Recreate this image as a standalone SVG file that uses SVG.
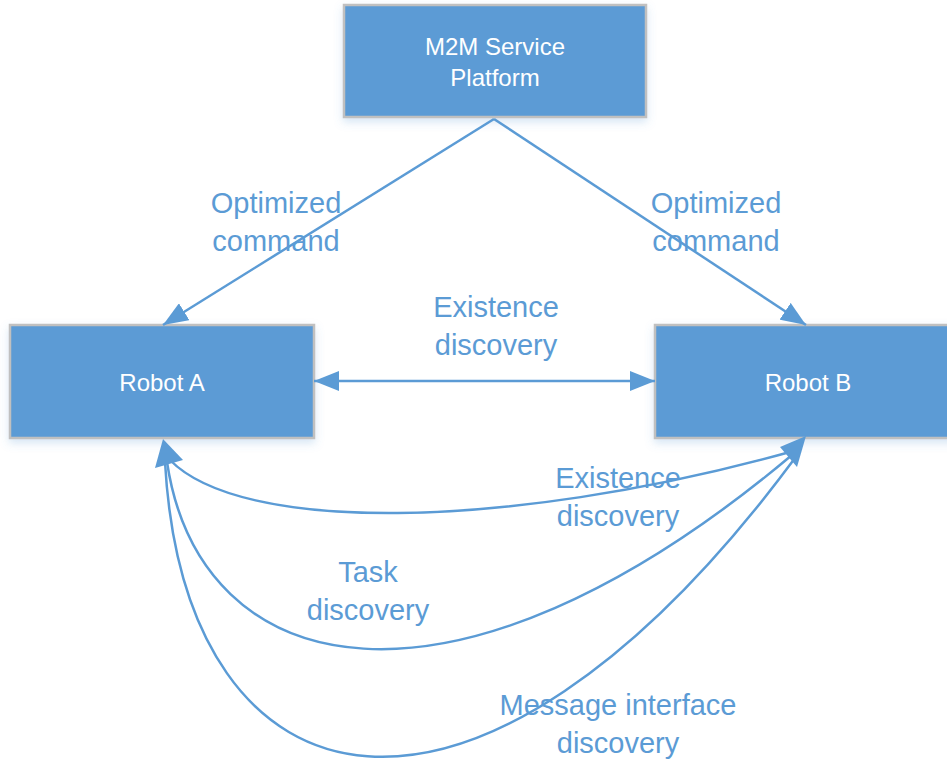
<svg xmlns="http://www.w3.org/2000/svg" width="947" height="760" viewBox="0 0 947 760">
<defs>
<style>
.box{fill:#5b9bd5;stroke:#c0c0c0;stroke-width:2.5;filter:url(#sh)}
.bt{font-family:"Liberation Sans",Arial,sans-serif;font-size:24px;fill:#ffffff;text-anchor:middle}
.lb{font-family:"Liberation Sans",Arial,sans-serif;font-size:29px;fill:#5b9bd5;text-anchor:middle}
.ln{fill:none;stroke:#5b9bd5;stroke-width:2.5}
.ah{fill:#5b9bd5}
</style>
<filter id="sh" x="-10%" y="-10%" width="120%" height="130%">
<feDropShadow dx="0" dy="4" stdDeviation="4" flood-color="#5b9bd5" flood-opacity="0.25"/>
</filter>
<marker id="arr" markerUnits="userSpaceOnUse" markerWidth="26" markerHeight="20" refX="25" refY="10" orient="auto-start-reverse" viewBox="0 0 26 20">
<path d="M0,0 L25,10 L0,20 z" fill="#5b9bd5"/>
</marker>
</defs>
<rect width="947" height="760" fill="#ffffff"/>
<g id="platform">
<rect class="box" x="344" y="5" width="302" height="112"/>
<text class="bt" x="495" y="55">M2M Service</text>
<text class="bt" x="495" y="86">Platform</text>
</g>
<g id="robotA">
<rect class="box" x="10" y="325" width="304" height="113"/>
<text class="bt" x="162" y="391">Robot A</text>
</g>
<g id="robotB">
<rect class="box" x="655" y="325" width="300" height="113"/>
<text class="bt" x="808" y="391">Robot B</text>
</g>
<g id="connectors">
<line class="ln" x1="494" y1="119" x2="163" y2="325" marker-end="url(#arr)"/>
<line class="ln" x1="494" y1="119" x2="806" y2="325" marker-end="url(#arr)"/>
<line class="ln" x1="314" y1="381" x2="655" y2="381" marker-start="url(#arr)" marker-end="url(#arr)"/>
<path class="ln" d="M170,460 C240,532 500,532 790,452"/>
<path class="ln" d="M167,462 C200,682 450,742 792,455"/>
<path class="ln" d="M165,462 C185,820 475,890 795,458"/>
<polygon class="ah" points="163,439 155,468 183,460"/>
<polygon class="ah" points="806,436 780,447 797,467"/>
</g>
<g id="labels">
<text class="lb" x="276" y="213">Optimized</text>
<text class="lb" x="276" y="251">command</text>
<text class="lb" x="716" y="213">Optimized</text>
<text class="lb" x="716" y="251">command</text>
<text class="lb" x="496" y="317">Existence</text>
<text class="lb" x="496" y="355">discovery</text>
<text class="lb" x="618" y="488">Existence</text>
<text class="lb" x="618" y="526">discovery</text>
<text class="lb" x="368" y="582">Task</text>
<text class="lb" x="368" y="620">discovery</text>
<text class="lb" x="618" y="715">Message interface</text>
<text class="lb" x="618" y="753">discovery</text>
</g>
</svg>
